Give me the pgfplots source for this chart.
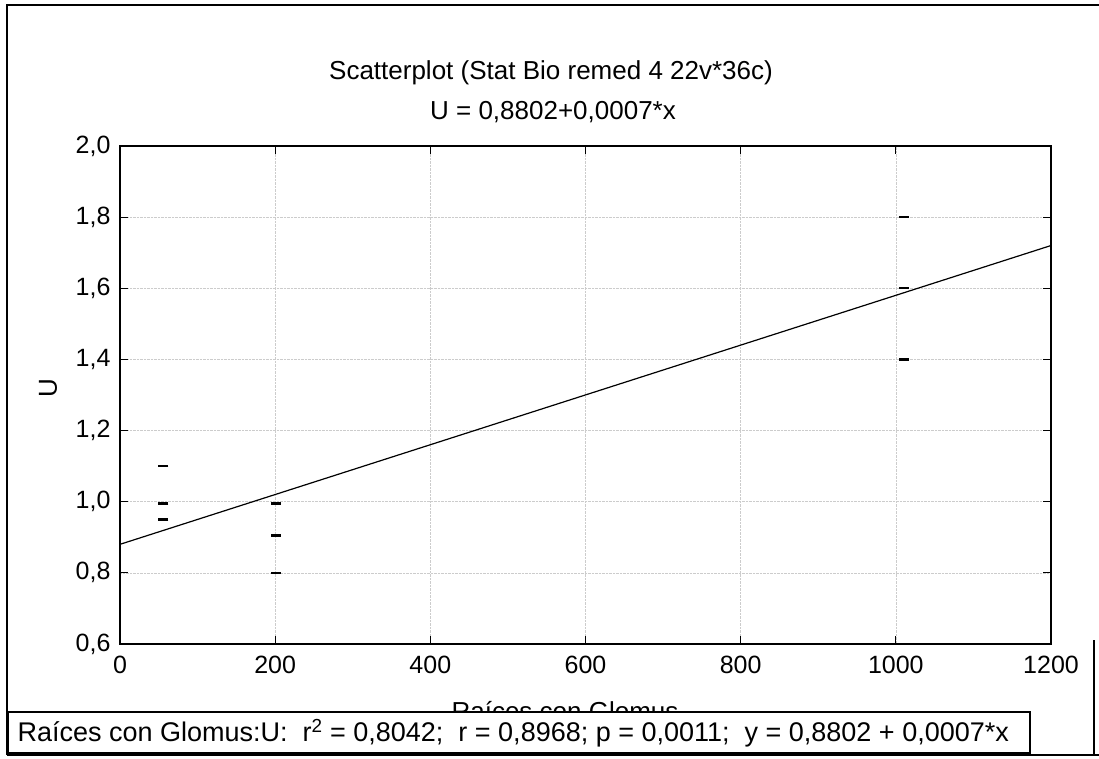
\documentclass[border=0pt]{standalone}
\usepackage{pgfplots}
\pgfplotsset{compat=1.18}
\usepackage{fontspec}
\setmainfont{Liberation Sans}
\begin{document}
\begin{tikzpicture}[x=1pt,y=1pt]
\path[use as bounding box] (0,0) rectangle (1099,758);
% outer frame
\draw[line width=1.2pt] (7,3) -- (7,753) -- (1099,753);
\draw[line width=1.2pt] (7,3) -- (1099,3);
\draw[line width=1.4pt] (1094,3) -- (1094,118);
\begin{axis}[
  at={(120pt,114pt)}, anchor=south west,
  width=931pt, height=498pt, scale only axis,
  xmin=0, xmax=1200, ymin=0.6, ymax=2.0,
  xtick={0,200,...,1200}, ytick={0.6,0.8,...,2.01},
  tick align=inside, major tick length=8pt,
  xtick pos=both, ytick pos=both,
  grid=major,
  major grid style={densely dotted, gray!40, line width=0.6pt},
  axis line style={line width=1.1pt},
  every tick/.style={line width=1pt, black},
  ticklabel style={font=\fontsize{25}{30}\selectfont},
  /pgf/number format/assume math mode=true,
  /pgf/number format/1000 sep={},
  yticklabel style={/pgf/number format/fixed, /pgf/number format/fixed zerofill, /pgf/number format/precision=1, /pgf/number format/use comma, xshift=-6pt},
  xticklabel style={yshift=-9pt},
  clip=false,
]
\addplot[only marks, mark=-, mark size=5pt, mark options={line width=2.2pt}] coordinates {
 (56,1.10) (56,0.995) (56,0.95)
 (201,0.995) (201,0.905) (201,0.80)
 (1010,1.80) (1010,1.60) (1010,1.40)
};
\addplot[black, line width=1.2pt] coordinates {(0,0.8802) (1200,1.7202)};
\end{axis}
\node[font=\fontsize{26}{30}\selectfont] at (551,685) {Scatterplot (Stat Bio remed 4 22v*36c)};
\node[font=\fontsize{26}{30}\selectfont] at (553,646) {U = 0,8802+0,0007*x};
\node[font=\fontsize{26}{30}\selectfont, rotate=90] at (48,370) {U};
\node[font=\fontsize{26}{30}\selectfont] at (565,47) {Raíces con Glomus};
\draw[line width=1.2pt, fill=white] (8,5) rectangle (1030,46);
\node[font=\fontsize{27}{30}\selectfont, anchor=west] at (14,25) {Raíces con Glomus:U:\ \ r\textsuperscript{2} = 0,8042;\ \ r = 0,8968; p = 0,0011;\ \ y = 0,8802 + 0,0007*x};
\end{tikzpicture}
\end{document}
